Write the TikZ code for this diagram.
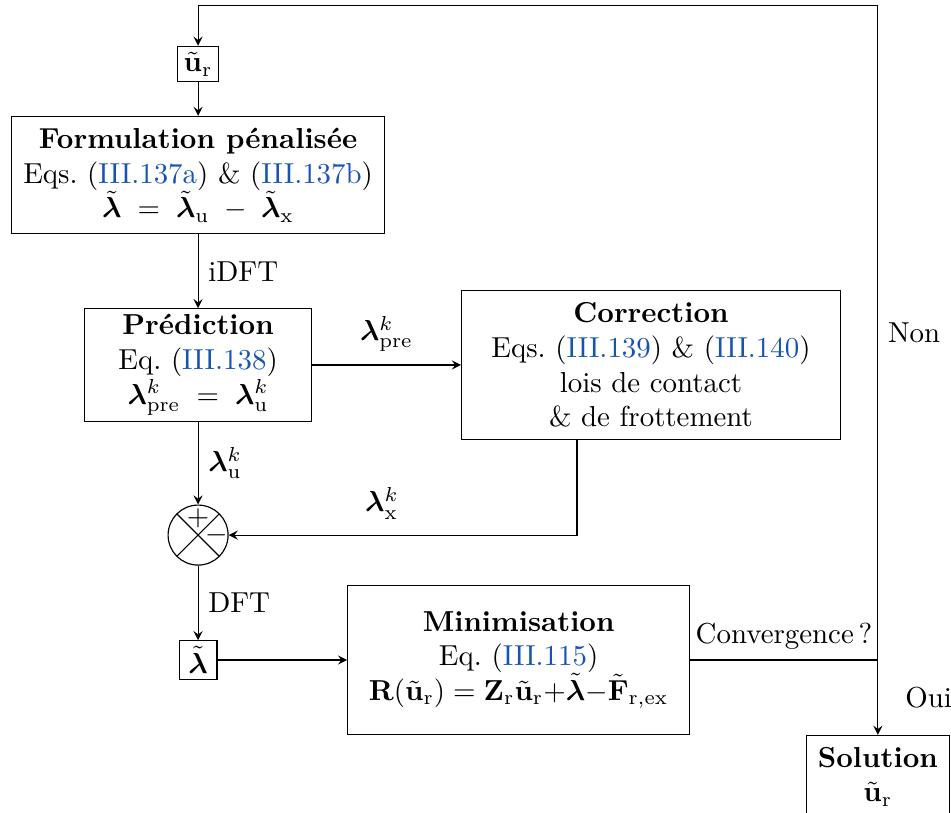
\documentclass[tikz,border=0pt]{standalone}
\usepackage{amsmath}
\usepackage{bm}
\usepackage{xcolor}
\usetikzlibrary{arrows}
\usetikzlibrary{math, positioning}
\definecolor{myblue}{RGB}{22,84,180}
\newcommand{\eqnum}[1]{(\textcolor{myblue}{#1})}

\begin{document}
\begin{tikzpicture}[>=stealth,
  bloc/.style={draw, align=center, inner sep=4pt},
  petit/.style={draw, inner sep=2pt, minimum width=0.46cm}]
\tikzmath{
\xa=2.41;
\xb=10.68;
}
\useasboundingbox (0,0) rectangle (11.57,-9.88);

\node[petit] (ur) at (\xa,-0.78) {$\tilde{\mathbf{u}}_\mathrm{r}$};
\node[bloc] (form) at (\xa,-2.13) {\textbf{Formulation pénalisée}\\ Eqs.~\eqnum{III.137a} \& \eqnum{III.137b}\\ $\tilde{\bm{\lambda}} \;=\; \tilde{\bm{\lambda}}_\mathrm{u} \;-\; \tilde{\bm{\lambda}}_\mathrm{x}$};
\node[bloc, inner ysep=2pt, minimum width=2.76cm] (pred) at (\xa,-4.44) {\textbf{Prédiction}\\ Eq.~\eqnum{III.138}\\ $\bm{\lambda}^k_\mathrm{pre} \;=\; \bm{\lambda}^k_\mathrm{u}$};
\node[bloc, minimum height=1.82cm, minimum width=4.61cm] (corr) at (7.92,-4.44) {\textbf{Correction}\\ Eqs.~\eqnum{III.139} \& \eqnum{III.140}\\ lois de contact\\ \& de frottement};

% comparateur
\node[draw, circle, minimum size=0.73cm, path picture={
  \draw (path picture bounding box.north west) -- (path picture bounding box.south east);
  \draw (path picture bounding box.north east) -- (path picture bounding box.south west);}] (sum) at (\xa,-6.51) {};
\node[inner sep=0] (plus) at ([yshift=0.2cm]sum.center) {$+$};
\node[inner sep=0] (moins) at ([xshift=0.23cm]sum.center) {$-$};

\node[petit] (lt) at (\xa,-8.03) {$\tilde{\bm{\lambda}}$};
\node[bloc, minimum height=1.82cm, minimum width=4.16cm] (mini) at (6.31,-8.03) {\textbf{Minimisation}\\ Eq.~\eqnum{III.115}\\ $\mathbf{R}(\tilde{\mathbf{u}}_\mathrm{r}) = \mathbf{Z}_\mathrm{r}\tilde{\mathbf{u}}_\mathrm{r} {+} \tilde{\bm{\lambda}} {-} \tilde{\mathbf{F}}_\mathrm{r,ex}$};
\node[bloc, anchor=north] (sol) at (\xb,-8.94) {\textbf{Solution}\\ $\tilde{\mathbf{u}}_\mathrm{r}$};

\coordinate (cv) at (\xb,-8.03);
\coordinate (haut) at (\xb,-0.07);

\draw[->] (ur) -- (form);
\draw[->] (form) -- node[right]{iDFT} (pred);
\draw[->] (pred) -- node[above=1pt]{$\bm{\lambda}^k_\mathrm{pre}$} (corr);
\draw[->] (pred) -- node[right]{$\bm{\lambda}^k_\mathrm{u}$} (sum);
\draw[->] ([xshift=-0.9cm]corr.south) |- node[pos=0.78, above=2pt]{$\bm{\lambda}^k_\mathrm{x}$} (sum.east);
\draw[->] (sum) -- node[right]{DFT} (lt);
\draw[->] (lt) -- (mini);
\draw (mini) -- node[above]{Convergence\,?} (cv);
\draw[->] (cv) -- node[right=6pt]{Oui} (sol);
\draw[->] (cv) -- node[right]{Non} (haut) -| (ur);
\end{tikzpicture}
\end{document}
